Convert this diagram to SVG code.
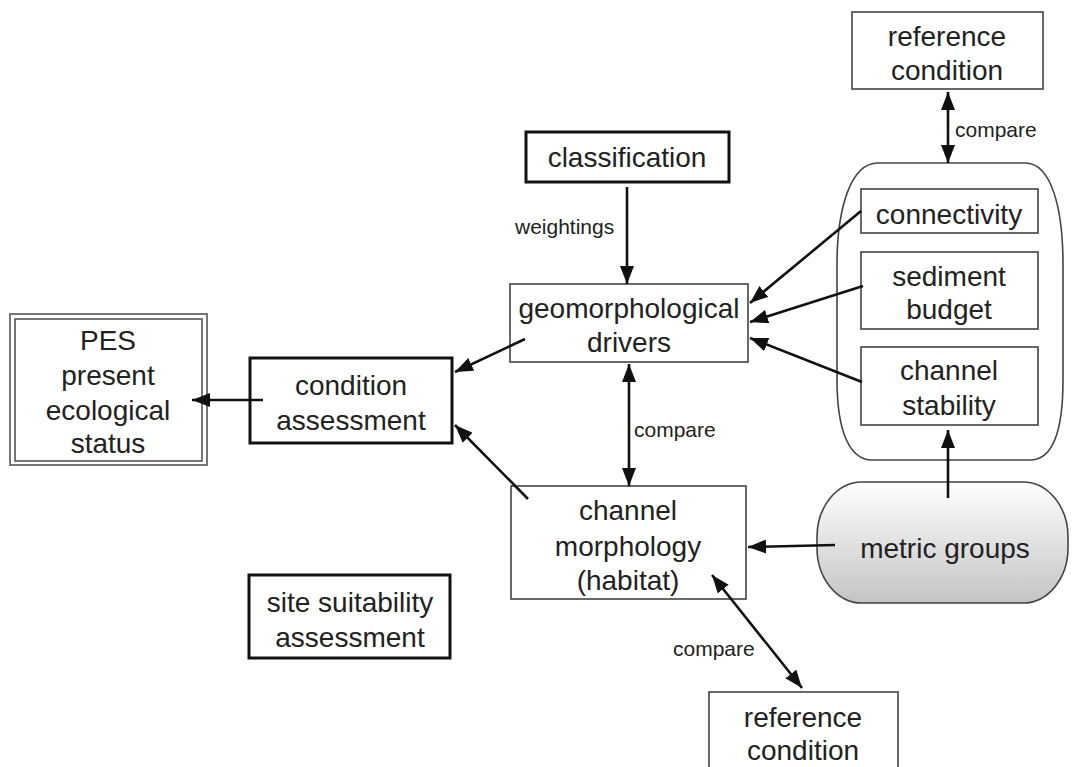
<svg xmlns="http://www.w3.org/2000/svg" width="1072" height="767" viewBox="0 0 1072 767">
<defs>
<marker id="ah" viewBox="0 0 18 14" refX="18" refY="7" markerWidth="18" markerHeight="14" markerUnits="userSpaceOnUse" orient="auto-start-reverse">
<path d="M0,0 L18,7 L0,14 z" fill="#111"/>
</marker>
<linearGradient id="mg" x1="0" y1="0" x2="0" y2="1">
<stop offset="0" stop-color="#ffffff"/>
<stop offset="1" stop-color="#c4c4c4"/>
</linearGradient>
<style>
text{font-family:"Liberation Sans",Arial,sans-serif;fill:#222;text-anchor:middle}
.t{font-size:28px}
.l{font-size:21px;text-anchor:start}
.thin{fill:#fff;stroke:#444;stroke-width:1.6}
.thick{fill:#fff;stroke:#111;stroke-width:3}
.c{fill:none;stroke:#111;stroke-width:2.6;marker-end:url(#ah)}
.d{fill:none;stroke:#111;stroke-width:2.6;marker-end:url(#ah);marker-start:url(#ah)}
</style>
</defs>
<rect width="1072" height="767" fill="#fff"/>

<g id="container">
<path class="thin" d="M878,163 H1025 C1052,163 1063,210 1063,265 V380 C1063,432 1052,460 1030,460 H872 C850,460 837,432 837,380 V265 C837,210 850,163 878,163 Z"/>
</g>

<g id="ref-top">
<rect class="thin" x="852" y="12" width="191" height="77"/>
<text class="t" x="947" y="46">reference</text>
<text class="t" x="947" y="80">condition</text>
</g>

<g id="connectivity">
<rect class="thin" x="861" y="189" width="177" height="44"/>
<text class="t" x="949" y="224">connectivity</text>
</g>

<g id="sediment">
<rect class="thin" x="861" y="252" width="177" height="77"/>
<text class="t" x="949" y="286">sediment</text>
<text class="t" x="949" y="319">budget</text>
</g>

<g id="stability">
<rect class="thin" x="861" y="347" width="177" height="78"/>
<text class="t" x="949" y="380">channel</text>
<text class="t" x="949" y="415">stability</text>
</g>

<g id="metric">
<rect x="817" y="482" width="251" height="121" rx="45" ry="55" fill="url(#mg)" stroke="#444" stroke-width="1.6"/>
<text class="t" x="945" y="558">metric groups</text>
</g>

<g id="classification">
<rect class="thick" x="526" y="132" width="203" height="50"/>
<text class="t" x="627" y="167">classification</text>
</g>

<g id="geomorph">
<rect class="thin" x="510" y="284" width="238" height="78"/>
<text class="t" x="629" y="318">geomorphological</text>
<text class="t" x="629" y="352">drivers</text>
</g>

<g id="condition">
<rect class="thick" x="250" y="358" width="202" height="85"/>
<text class="t" x="351" y="395">condition</text>
<text class="t" x="351" y="430">assessment</text>
</g>

<g id="pes">
<rect x="10" y="314" width="197" height="151" fill="#fff" stroke="#555" stroke-width="1.6"/>
<rect x="15" y="319" width="187" height="142" fill="none" stroke="#555" stroke-width="1.6"/>
<text class="t" x="108" y="350">PES</text>
<text class="t" x="108" y="385">present</text>
<text class="t" x="108" y="420">ecological</text>
<text class="t" x="108" y="453">status</text>
</g>

<g id="morphology">
<rect class="thin" x="511" y="486" width="235" height="113"/>
<text class="t" x="628" y="520">channel</text>
<text class="t" x="628" y="556">morphology</text>
<text class="t" x="628" y="590">(habitat)</text>
</g>

<g id="site">
<rect class="thick" x="249" y="575" width="201" height="83"/>
<text class="t" x="350" y="612">site suitability</text>
<text class="t" x="350" y="647">assessment</text>
</g>

<g id="ref-bottom">
<rect class="thin" x="709" y="692" width="189" height="90"/>
<text class="t" x="803" y="727">reference</text>
<text class="t" x="803" y="760">condition</text>
</g>

<g id="connectors">
<line class="d" x1="948" y1="92" x2="948" y2="163"/>
<line class="c" x1="627" y1="187" x2="627" y2="284"/>
<line class="c" x1="861" y1="211" x2="750" y2="303"/>
<line class="c" x1="863" y1="286" x2="750" y2="322"/>
<line class="c" x1="862" y1="382" x2="750" y2="338"/>
<line class="c" x1="525" y1="339" x2="455" y2="372"/>
<line class="c" x1="528" y1="499" x2="455" y2="425"/>
<line class="c" x1="263" y1="400" x2="192" y2="400"/>
<line class="d" x1="629" y1="364" x2="629" y2="486"/>
<line class="c" x1="835" y1="545" x2="748" y2="547"/>
<line class="c" x1="948" y1="498" x2="948" y2="430"/>
<line class="d" x1="712" y1="575" x2="802" y2="688"/>
<text class="l" x="515" y="234">weightings</text>
<text class="l" x="955" y="137">compare</text>
<text class="l" x="634" y="437">compare</text>
<text class="l" x="673" y="656">compare</text>
</g>
</svg>
